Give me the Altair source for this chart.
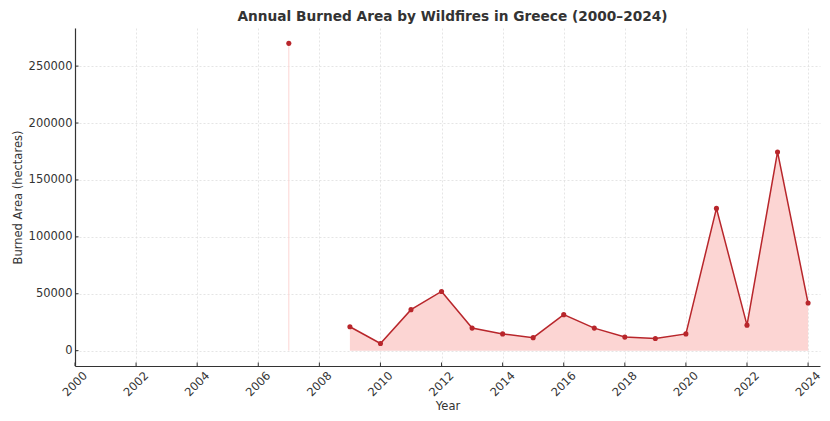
import altair as alt
import pandas as pd
import numpy as np

years = [2007, 2008, 2009, 2010, 2011, 2012, 2013, 2014, 2015, 2016,
         2017, 2018, 2019, 2020, 2021, 2022, 2023, 2024]
burned = [270000, None, 21000, 6300, 36000, 52000, 19800, 14700, 11400, 31600,
          19800, 11900, 10600, 14700, 125000, 22400, 174600, 41800]
x_ticks = list(range(2000, 2025, 2))
y_ticks = [0, 50000, 100000, 150000, 200000, 250000]

df = pd.DataFrame({"Year": years, "Area": burned})
vals = df["Area"].to_numpy(dtype=float)
iso = []
for i, v in enumerate(vals):
    prev_nan = i == 0 or np.isnan(vals[i - 1])
    next_nan = i == len(vals) - 1 or np.isnan(vals[i + 1])
    iso.append(bool(not np.isnan(v) and prev_nan and next_nan))
df["isolated"] = iso
df["valid"] = ~np.isnan(vals)

xt = pd.DataFrame({"Year": x_ticks})
yt = pd.DataFrame({"Area": y_ticks})

LINE = "#b8262b"
FILL = "#fcd5d3"
FONT = "DejaVu Sans"
TXT = "#333333"
W, H = 745, 338

xs = alt.Scale(domain=[2000, 2024.39], nice=False, zero=False)
ys = alt.Scale(domain=[-13500, 283500], nice=False, zero=False)

x = alt.X("Year:Q", scale=xs,
          axis=alt.Axis(values=x_ticks, format="d", labelAngle=-45, title="Year",
                        labelAlign="center", labelBaseline="middle", labelPadding=18,
                        titlePadding=2, titleFontWeight="normal", labelFlush=False,
                        labelOverlap=False, ticks=False, tickSize=0))
y = alt.Y("Area:Q", scale=ys,
          axis=alt.Axis(values=y_ticks, format="d", title="Burned Area (hectares)",
                        titlePadding=5, labelPadding=3, titleFontWeight="normal",
                        ticks=False, tickSize=0))

base = alt.Chart(df)

area = base.mark_area(color=FILL, opacity=1, invalid="break-paths-show-domains").encode(
    x=x, y=y, y2=alt.datum(0))
rule = base.transform_filter("datum.isolated").mark_rule(color=FILL, strokeWidth=1).encode(
    x=x, y=y, y2=alt.datum(0))
line = base.mark_line(color=LINE, strokeWidth=1.5, invalid="break-paths-show-domains").encode(x=x, y=y)
pts = base.transform_filter("datum.valid").mark_circle(color=LINE, size=26, opacity=1).encode(x=x, y=y)

# inward tick marks
xtick = alt.Chart(xt).mark_rule(color=TXT, strokeWidth=1).encode(
    x=alt.X("Year:Q", scale=xs), y=alt.value(H - 3.5), y2=alt.value(H))
ytick = alt.Chart(yt).mark_rule(color=TXT, strokeWidth=1).encode(
    y=alt.Y("Area:Q", scale=ys), x=alt.value(0), x2=alt.value(3.5))

chart = alt.layer(area, rule, line, pts, xtick, ytick).properties(
    width=W, height=H,
    background="white",
    title=alt.TitleParams("Annual Burned Area by Wildfires in Greece (2000–2024)",
                          font=FONT, fontSize=13.7, fontWeight="bold", color=TXT,
                          anchor="middle", offset=4, dx=5),
    autosize=alt.AutoSizeParams(type="none"),
    padding={"left": 67, "top": 20, "right": 2, "bottom": 47},
).configure_view(stroke=None).configure_axis(
    labelFont=FONT, titleFont=FONT, labelFontSize=11.5, titleFontSize=11.5,
    labelColor=TXT, titleColor=TXT, titleFontWeight="normal",
    domainColor=TXT, domainWidth=1.2,
    gridColor="#dedede", gridDash=[2, 2], gridWidth=0.8,
)

chart.save("out.html", embed_options={"renderer": "svg", "actions": False})
